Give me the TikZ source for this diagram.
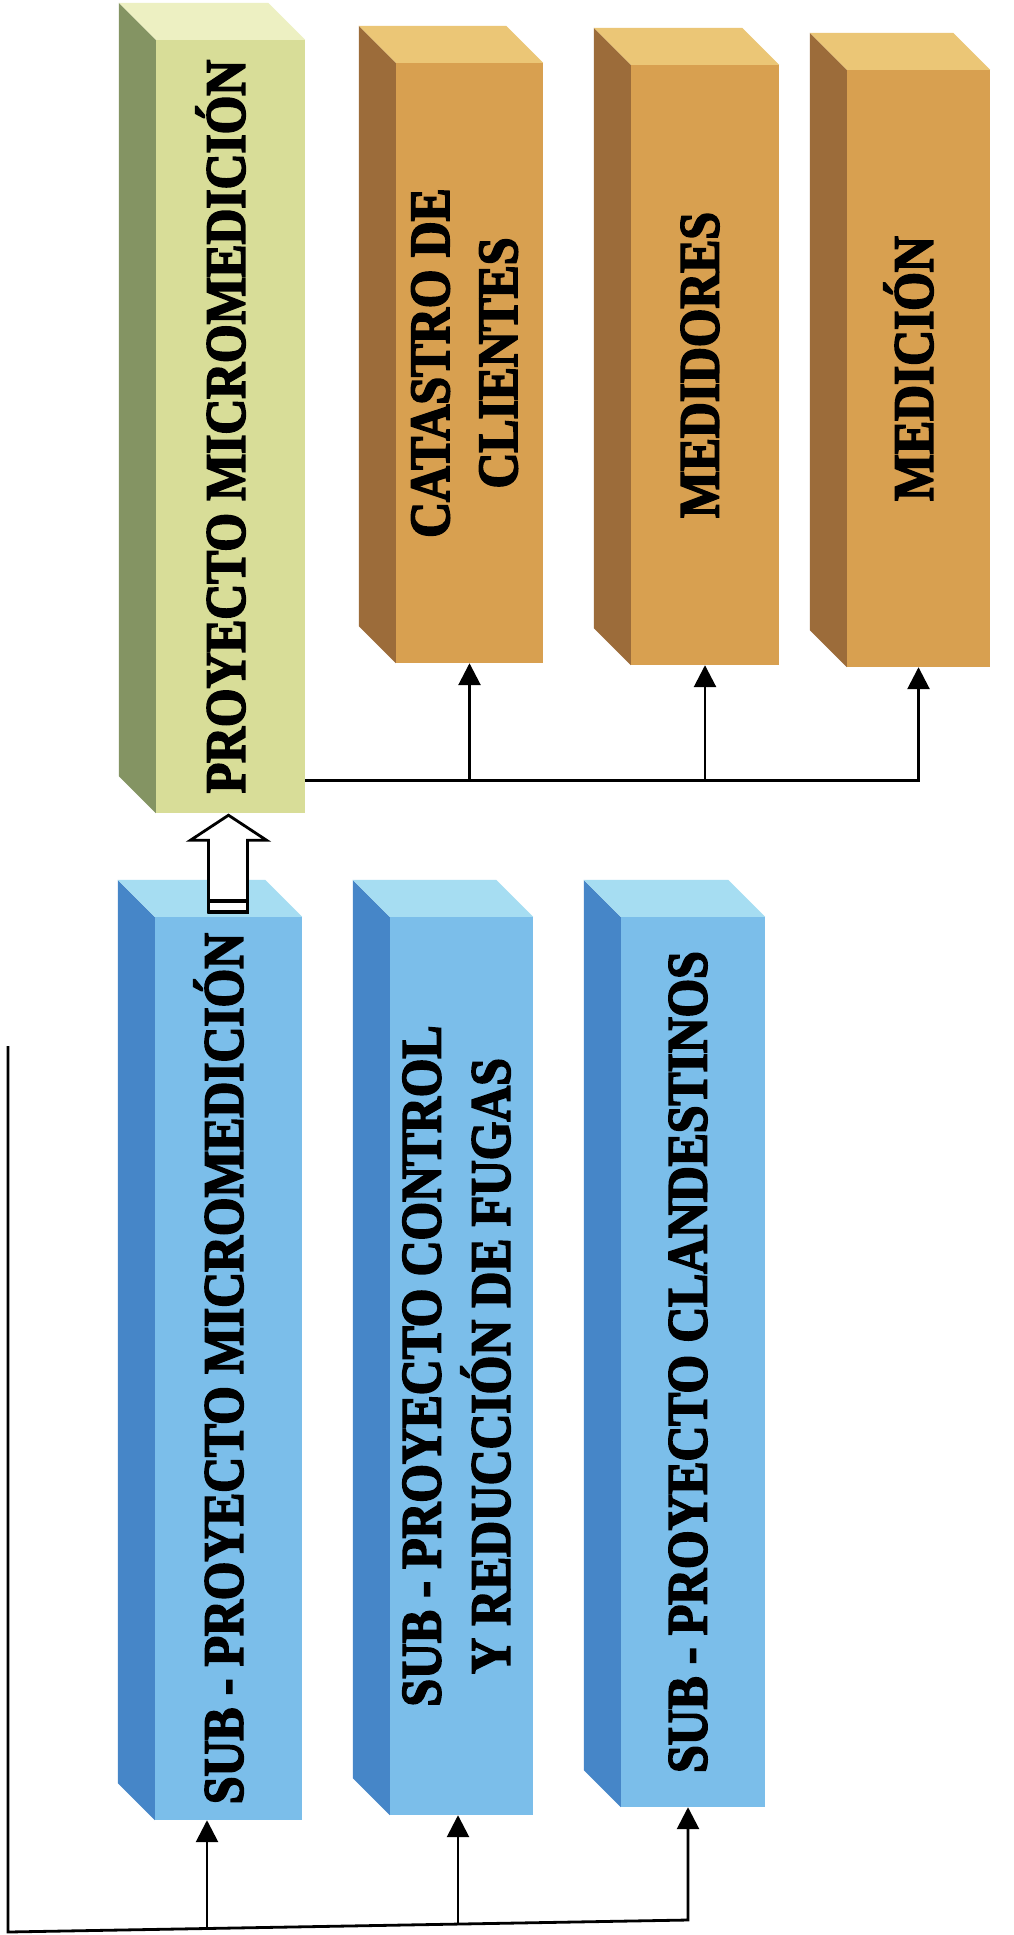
\documentclass[tikz,border=0pt]{standalone}
\usepackage{fontspec}
\setmainfont{Liberation Serif}
\newfontfamily\boxfont{Liberation Serif Bold}[FakeStretch=0.87,FakeBold=3]
\usetikzlibrary{arrows.meta,calc}
\definecolor{gfront}{HTML}{D8DD98}
\definecolor{gside}{HTML}{849463}
\definecolor{gtop}{HTML}{EDF0C2}
\definecolor{bfront}{HTML}{D8A050}
\definecolor{bside}{HTML}{9C6C3A}
\definecolor{btop}{HTML}{EBC676}
\definecolor{ufront}{HTML}{7BBEEA}
\definecolor{uside}{HTML}{4686C8}
\definecolor{utop}{HTML}{A6DDF2}
\newcommand{\boxlabel}[1]{\rotatebox{90}{\boxfont\fontsize{57}{68}\selectfont\begin{tabular}{@{}c@{}}#1\end{tabular}}}
\newcommand{\cubefaces}[3]{%
  \fill[#2] (#1.north west) -- ++(-37,-37) -- ($(#1.south west)+(-37,-37)$) -- (#1.south west) -- cycle;
  \fill[#3] (#1.north west) -- ++(-37,-37) -- ($(#1.north east)+(-37,-37)$) -- (#1.north east) -- cycle;
}
\begin{document}
\begin{tikzpicture}[x=1pt,y=-1pt,
  front/.style={draw=none, inner sep=0pt, anchor=center, text=black},
  conn/.style={line width=2.8pt, draw=black},
  arr/.style={conn, -{Triangle[length=22pt,width=22pt]}},
  hollow/.style={line width=2.8pt, draw=black, fill=white, line join=miter}]
\fill[white] (0,0) rectangle (1013,1935);
\useasboundingbox (0,0) rectangle (1013,1935);

% front faces
\node[front, fill=gfront, minimum width=149pt, minimum height=773pt] (G) at (230.5,426.5) {\boxlabel{PROYECTO MICROMEDICIÓN}};
\node[front, fill=bfront, minimum width=147pt, minimum height=600pt] (B1) at (469.5,363) {\boxlabel{CATASTRO DE\\CLIENTES}};
\node[front, fill=bfront, minimum width=148pt, minimum height=600pt] (B2) at (705,365) {\boxlabel{MEDIDORES}};
\node[front, fill=bfront, minimum width=143pt, minimum height=597pt] (B3) at (918.5,368.5) {\boxlabel{MEDICIÓN}};
\node[front, fill=ufront, minimum width=147pt, minimum height=903pt] (U1) at (228.5,1368.5) {\boxlabel{SUB - PROYECTO MICROMEDICIÓN}};
\node[front, fill=ufront, minimum width=143pt, minimum height=898pt] (U2) at (461.5,1366) {\boxlabel{SUB - PROYECTO CONTROL\\Y REDUCCIÓN DE FUGAS}};
\node[front, fill=ufront, minimum width=144pt, minimum height=890pt] (U3) at (693,1362) {\boxlabel{SUB - PROYECTO CLANDESTINOS}};

% 3D faces
\cubefaces{G}{gside}{gtop}
\cubefaces{B1}{bside}{btop}
\cubefaces{B2}{bside}{btop}
\cubefaces{B3}{bside}{btop}
\cubefaces{U1}{uside}{utop}
\cubefaces{U2}{uside}{utop}
\cubefaces{U3}{uside}{utop}

% hollow arrow from U1 to G
\begin{scope}[shift={($(U1.north |- G.south)+(0,2)$)}]
  \draw[hollow] (0,0) -- (38,25) -- (19,25) -- (19,97) -- (-20,97) -- (-20,25) -- (-38,25) -- cycle;
  \draw[line width=4.5pt] (-21,86) -- (20,86);
  \draw[line width=4.5pt] (-21,97) -- (20,97);
\end{scope}

% top connectors
\coordinate (h0) at ($(G.south east)+(0,-33)$);
\draw[arr] (h0) -- (h0 -| B3.south) -- (B3.south);
\draw[arr] (h0 -| B1.south) -- (B1.south);
\draw[arr] (h0 -| B2.south) -- (B2.south);

% bottom connectors
\coordinate (ltop) at (8,1046);
\coordinate (lcorner) at (8,1932);
\coordinate (f1) at (207,1928.5);
\coordinate (f2) at (458,1924);
\coordinate (f3) at (688,1920);
\draw[arr, line join=miter] (ltop) -- (lcorner) -- (f3) -- (f3 |- U3.south);
\draw[arr] (f1) -- (f1 |- U1.south);
\draw[arr] (f2) -- (f2 |- U2.south);
\end{tikzpicture}
\end{document}
